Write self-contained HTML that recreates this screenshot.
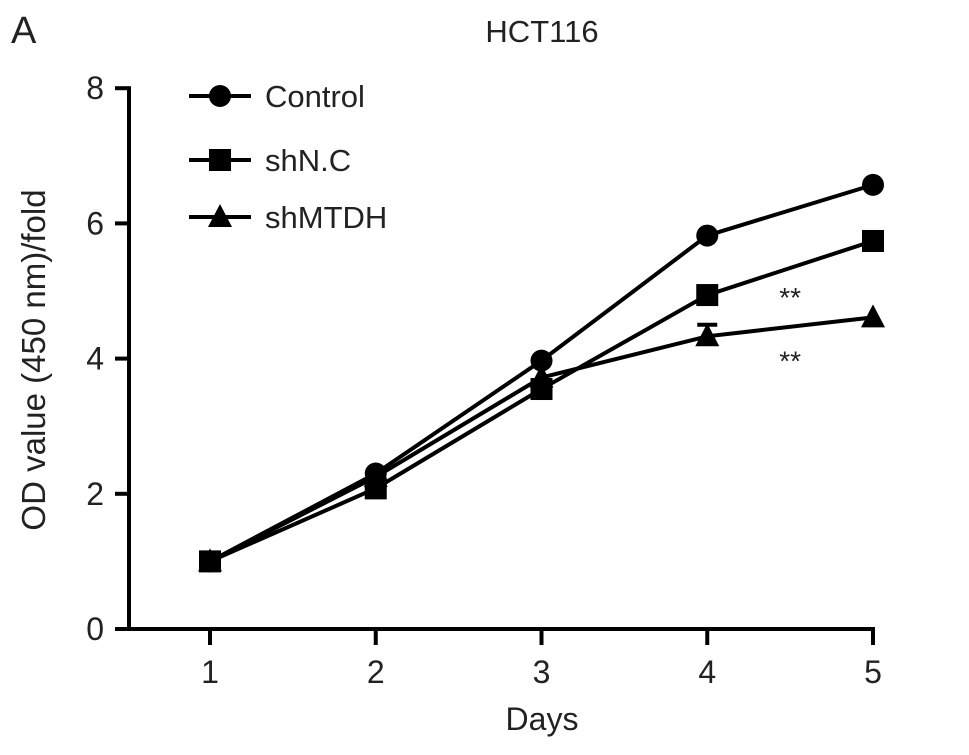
<!DOCTYPE html>
<html><head><meta charset="utf-8"><style>
body{margin:0;background:#fff}
svg text{font-family:"Liberation Sans",Arial,sans-serif;fill:#222}
</style></head><body>
<svg width="969" height="750" id="c">
<text x="11" y="43" font-size="38">A</text>
<text x="542" y="42" font-size="31" text-anchor="middle">HCT116</text>
<text x="542" y="730" font-size="32" text-anchor="middle">Days</text>
<text transform="translate(45,360) rotate(-90)" font-size="33" text-anchor="middle">OD value (450 nm)/fold</text>
<g id="axes"></g><g id="series"></g><g id="legend"></g>
</svg>
<script>
const days=[1,2,3,4,5];
const control=[1,2.3,3.97,5.82,6.57];
const shNC=[1,2.08,3.55,4.94,5.74];
const shMTDH=[1,2.25,3.72,4.33,4.61];
const shMTDHErr=[0,0,0,0.17,0];
const yTicks=[0,2,4,6,8];
const seriesNames=["Control","shN.C","shMTDH"];
const NS="http://www.w3.org/2000/svg";
const X=d=>210+(d-1)*165.75;
const Y=v=>629-v*67.6;
function mk(t,a,p){const e=document.createElementNS(NS,t);for(const k in a)e.setAttribute(k,a[k]);p.appendChild(e);return e;}
const ax=document.getElementById('axes');
let e=mk('line',{x1:129,y1:629,x2:129,y2:Y(8)-2,stroke:'#000','stroke-width':4},ax);

e=mk('line',{x1:115,y1:629,x2:X(5)+2,y2:629,stroke:'#000','stroke-width':4},ax);

yTicks.forEach(v=>{mk('line',{x1:115,y1:Y(v),x2:129,y2:Y(v),stroke:'#000','stroke-width':4},ax);
 const t=mk('text',{x:104,y:Y(v)+11,'font-size':32,'text-anchor':'end'},ax);t.textContent=v;
 });
days.forEach(d=>{mk('line',{x1:X(d),y1:629,x2:X(d),y2:645,stroke:'#000','stroke-width':4},ax);
 const t=mk('text',{x:X(d),y:683,'font-size':32,'text-anchor':'middle'},ax);t.textContent=d;
 });
const sg=document.getElementById('series');
function marker(type,x,y,g){
 if(type==0)return mk('circle',{cx:x,cy:y,r:11,fill:'#000'},g);
 if(type==1)return mk('rect',{x:x-11,y:y-11,width:22,height:22,fill:'#000'},g);
 return mk('polygon',{points:`${x},${y-13} ${x+12},${y+10} ${x-12},${y+10}`,fill:'#000'},g);
}
[control,shNC,shMTDH].forEach((s,i)=>{
 const g=mk('g',{},sg);
 mk('polyline',{points:days.map((d,j)=>X(d)+','+Y(s[j])).join(' '),fill:'none',stroke:'#000','stroke-width':4},g);
 if(i==2)days.forEach((d,j)=>{if(shMTDHErr[j]>0){mk('line',{x1:X(d),y1:Y(s[j]),x2:X(d),y2:Y(s[j]+shMTDHErr[j]),stroke:'#000','stroke-width':4},g);mk('line',{x1:X(d)-10,y1:Y(s[j]+shMTDHErr[j]),x2:X(d)+10,y2:Y(s[j]+shMTDHErr[j]),stroke:'#000','stroke-width':4},g);}});
 days.forEach((d,j)=>{const m=marker(i,X(d),Y(s[j]),g);});
});
[[X(4.5),Y(4.94)+12],[X(4.5),Y(4.33)+34]].forEach(p=>{const t=mk('text',{x:p[0],y:p[1],'font-size':28,'text-anchor':'middle'},sg);t.textContent='**';
 });
const lg=document.getElementById('legend');
[96,160,217].forEach((y,i)=>{const g=mk('g',{},lg);
 mk('line',{x1:189,y1:y,x2:251,y2:y,stroke:'#000','stroke-width':4},g);marker(i,220,y,g);
 const t=mk('text',{x:265,y:y+11,'font-size':31},g);t.textContent=seriesNames[i];});
</script>
</body></html>
